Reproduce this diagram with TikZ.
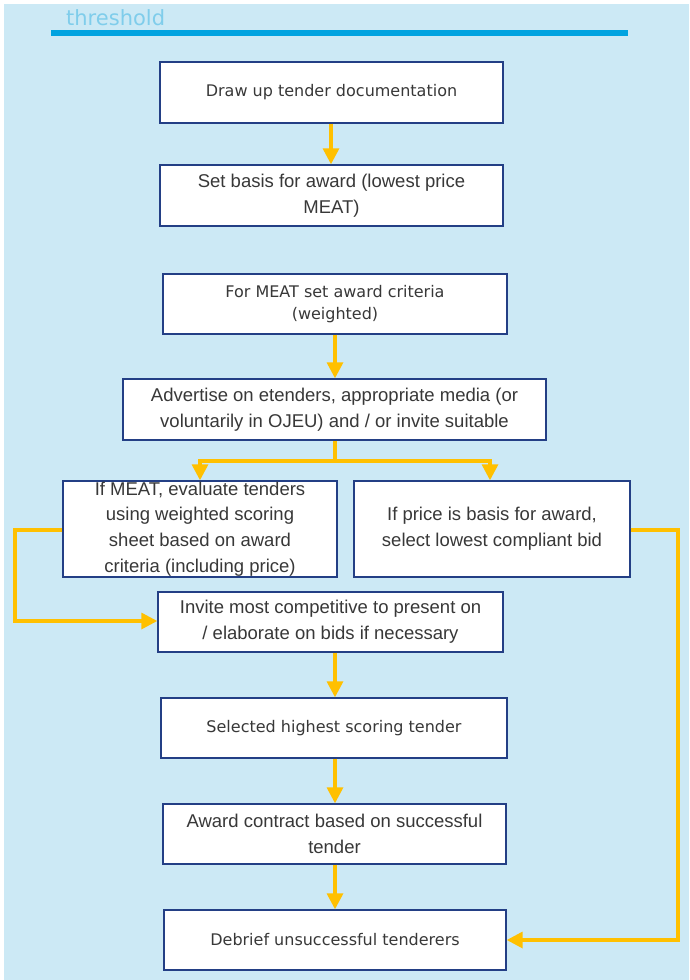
\documentclass[tikz,border=0pt]{standalone}
\usepackage{fontspec}
\setmainfont{Liberation Sans}
\newfontfamily\arialf{Liberation Sans}
\newfontfamily\verdf{DejaVu Sans}
\usetikzlibrary{arrows.meta}
\definecolor{bgblue}{HTML}{CCE9F5}
\definecolor{rule}{HTML}{00A3E0}
\definecolor{thr}{HTML}{7FCDEB}
\definecolor{bord}{HTML}{233F85}
\definecolor{gold}{HTML}{FFC000}
\definecolor{txt}{HTML}{383838}
\tikzset{
  boxa/.style={draw=bord, line width=1.4pt, fill=white, inner sep=0pt, align=center,
    text=txt, font=\arialf\fontsize{18.5}{25.8}\selectfont},
  boxv/.style={draw=bord, line width=1.4pt, fill=white, inner sep=0pt, align=center,
    text=txt, font=\verdf\fontsize{16}{22}\selectfont},
  arr/.style={draw=gold, line width=3.3pt, -{Triangle[length=16pt,width=16pt]}},
  ln/.style={draw=gold, line width=3.3pt},
}
\begin{document}
\begin{tikzpicture}[x=1pt,y=-1pt]
\useasboundingbox (0,0) rectangle (689,980);
\fill[bgblue] (4,4) rectangle (689,980);
\node[anchor=base west, text=thr, font=\verdf\fontsize{21}{24}\selectfont, inner sep=0pt] (thr) at (66,25) {threshold};
\fill[rule] (51,30) rectangle (628,36);

\node[boxv, minimum width=343pt, minimum height=61pt] (b1) at (331.5,92.5) {Draw up tender documentation};
\node[boxa, minimum width=343pt, minimum height=61pt] (b2) at (331.5,195.5) {Set basis for award (lowest price\\MEAT)};
\node[boxv, minimum width=344pt, minimum height=60pt] (b3) at (335,304) {For MEAT set award criteria\\(weighted)};
\node[boxa, minimum width=423pt, minimum height=61pt] (b4) at (334.5,409.5) {Advertise on etenders, appropriate media (or\\voluntarily in OJEU) and / or invite suitable};
\node[boxa, minimum width=274pt, minimum height=96pt] (b5) at (200,529) {If MEAT, evaluate tenders\\using weighted scoring\\sheet based on award\\criteria (including price)};
\node[boxa, minimum width=276pt, minimum height=96pt] (b6) at (492,529) {If price is basis for award,\\select lowest compliant bid};
\node[boxa, minimum width=345pt, minimum height=60pt] (b7) at (330.5,622) {Invite most competitive to present on\\/ elaborate on bids if necessary};
\node[boxv, minimum width=346pt, minimum height=60pt] (b8) at (334,728) {Selected highest scoring tender};
\node[boxa, minimum width=343pt, minimum height=60pt] (b9) at (334.5,834) {Award contract based on successful\\tender};
\node[boxv, minimum width=342pt, minimum height=60pt] (b10) at (335,940) {Debrief unsuccessful tenderers};

\coordinate (sp) at (335,461);
\coordinate (spl) at (200,461);
\coordinate (spr) at (490,461);
\coordinate (ll1) at (15,530);
\coordinate (ll2) at (15,621);
\coordinate (rl1) at (678,530);
\coordinate (rl2) at (678,940);

\draw[arr] (b1.south -| 331,0) -- (b2.north -| 331,0);
\draw[arr] (b3.south -| 335,0) -- (b4.north -| 335,0);
\draw[ln] (b4.south -| sp) -- (sp);
\draw[arr] (sp) -- (spl) -- (b5.north -| spl);
\draw[arr] (sp) -- (spr) -- (b6.north -| spr);
\draw[arr] (b5.west |- ll1) -- (ll1) -- (ll2) -- (b7.west |- ll2);
\draw[arr] (b6.east |- rl1) -- (rl1) -- (rl2) -- (b10.east |- rl2);
\draw[arr] (b7.south -| 335,0) -- (b8.north -| 335,0);
\draw[arr] (b8.south -| 335,0) -- (b9.north -| 335,0);
\draw[arr] (b9.south -| 335,0) -- (b10.north -| 335,0);
\end{tikzpicture}
\end{document}
